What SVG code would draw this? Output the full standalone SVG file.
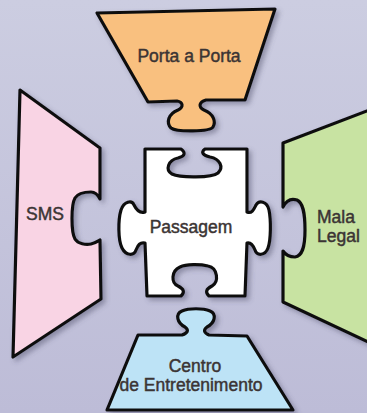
<svg xmlns="http://www.w3.org/2000/svg" width="367" height="413" viewBox="0 0 367 413">
  <defs>
    <linearGradient id="bg" x1="0" y1="0" x2="0" y2="1">
      <stop offset="0" stop-color="#cccde1"/>
      <stop offset="1" stop-color="#bdbcd7"/>
    </linearGradient>
    <filter id="sh" x="-20%" y="-20%" width="140%" height="140%">
      <feDropShadow dx="3" dy="3" stdDeviation="2.5" flood-color="#4a4a66" flood-opacity="0.45"/>
    </filter>
  </defs>
  <style>
    .pc { stroke: #111; stroke-width: 3.2; stroke-linejoin: round; filter: url(#sh); }
    .lb { font-family: "Liberation Sans", Arial, sans-serif; font-size: 17.5px; fill: #3b3434; stroke: #3b3434; stroke-width: 0.45; text-anchor: middle; }
  </style>
  <rect x="0" y="0" width="367" height="413" fill="url(#bg)"/>

  <g id="porta-a-porta">
    <path class="pc" fill="#f9c07f" d="M 97,13 L 275,9 L 245,100 L 206,100 C 199,102 198,107 204,110 C 214,114 216,122 213,127 C 210,132 176,132 171,128 C 166,123 168,114 178,110 C 184,107 183,102 177,101 L 148,102 Z"/>
    <text class="lb" x="189" y="62">Porta a Porta</text>
  </g>

  <g id="sms">
    <path class="pc" fill="#f9d4e4" d="M 20,90 L 100,148 L 100,199 C 98,195 96,192 91,192 C 84,192 78,193 75,198 C 71,205 71,232 75,239 C 78,244 86,245 91,244 C 96,243 98,241 100,240 L 101,299 L 13,357 Z"/>
    <text class="lb" x="45" y="220">SMS</text>
  </g>

  <g id="mala-legal">
    <path class="pc" fill="#c8e3a2" d="M 283,143 L 385,104 L 385,350 L 283,302 L 283,251 C 285,254 289,257 295,257 C 302,256 305,248 305,230 C 305,212 303,203 297,200 C 291,198 286,201 283,207 Z"/>
    <text class="lb" x="317" y="223" style="text-anchor:start">Mala</text>
    <text class="lb" x="317" y="242" style="text-anchor:start">Legal</text>
  </g>

  <g id="passagem">
    <path class="pc" fill="#ffffff" d="M 145,149 L 181,149 C 186,153 185,156 178,158 C 168,160 165,170 172,174 C 180,178 212,178 218,173 C 224,167 220,159 210,157 C 202,155 201,152 205,149 L 247,149 L 247,212 C 252,214 254,209 256,205 C 259,200 267,201 269,210 C 271,220 271,240 268,248 C 265,256 257,256 255,250 C 253,245 251,242 247,243 L 245,296 L 209,296 C 205,292 206,289 212,286 C 219,282 218,268 208,266 C 200,264 186,264 180,267 C 171,271 171,283 178,286 C 184,289 185,292 181,296 L 147,296 L 145,243 C 140,242 138,245 136,250 C 134,256 126,256 122,248 C 118,240 118,220 121,210 C 124,201 132,200 134,205 C 136,209 139,214 145,212 Z"/>
    <text class="lb" x="191" y="233">Passagem</text>
  </g>

  <g id="centro-de-entretenimento">
    <path class="pc" fill="#bde3f6" d="M 138,335 L 182,335 C 188,333 189,330 185,327 C 177,323 175,314 182,311 C 189,308 203,308 210,311 C 217,314 215,323 207,327 C 203,330 204,333 209,335 L 247,336 L 293,410 L 107,410 Z"/>
    <text class="lb" x="195" y="372">Centro</text>
    <text class="lb" x="191" y="391">de Entretenimento</text>
  </g>
</svg>
